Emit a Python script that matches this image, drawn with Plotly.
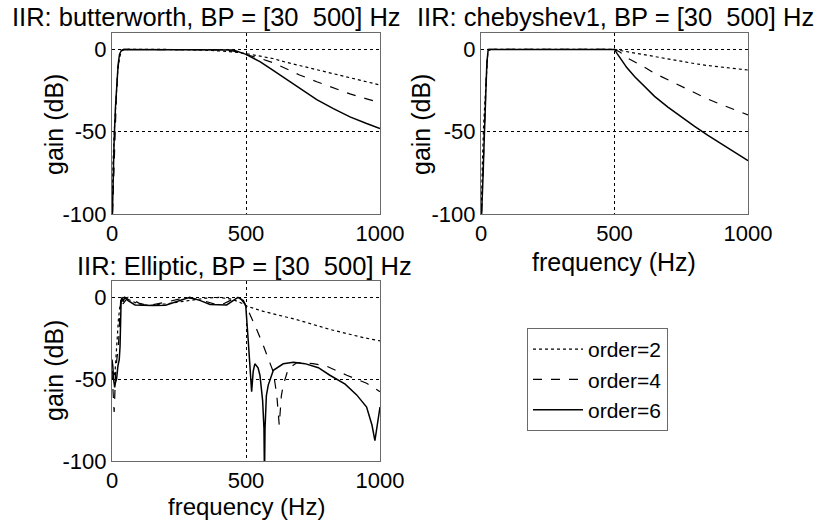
import plotly.graph_objects as go

# ---------------- data ----------------
orders = ["order=2", "order=4", "order=6"]
titles = ["IIR: butterworth, BP = [30  500] Hz",
          "IIR: chebyshev1, BP = [30  500] Hz",
          "IIR: Elliptic, BP = [30  500] Hz"]
x_ticks = [0, 500, 1000]
x_tick_text = ["0", "500", "1000"]
y_ticks = [-100, -50, 0]
y_tick_text = ["-100", "-50", "0"]

# Butterworth
bw2_f = [0, 1, 4, 9, 16, 22, 28, 35, 41, 60, 200, 265, 328, 390, 453, 500, 552, 600, 650, 700, 764, 826, 888, 950, 1000]
bw2_g = [-110, -100, -68, -48, -27.5, -11, -5, -1, -0.3, 0, 0, 0, -0.3, -0.8, -1.5, -2.5, -4, -5.5, -7.8, -9.8, -12.5, -15, -17.5, -19.6, -21.6]
bw4_f = [0, 2, 6, 11, 16, 21, 26, 32, 42, 60, 300, 400, 453, 500, 552, 600, 650, 700, 764, 826, 888, 950, 1000]
bw4_g = [-110, -100, -70, -48, -30, -15, -6, -1.5, 0, 0, 0, -0.2, -1, -3, -5.4, -8, -12, -15.5, -19.6, -23.5, -27, -30, -32.3]
bw6_f = [0, 1, 4, 8, 13, 18, 23, 28, 35, 45, 60, 400, 453, 500, 552, 600, 650, 700, 764, 826, 888, 950, 1000]
bw6_g = [-110, -100, -80, -55, -35, -20, -9, -3, -0.5, 0, 0, 0, -0.3, -3, -7.4, -12.5, -18, -23.5, -30.5, -36, -41, -45, -48]

# Chebyshev type 1
ch2_f = [0, 1, 5, 10, 15, 20, 25, 30, 40, 500, 550, 600, 650, 700, 750, 800, 850, 900, 950, 1000]
ch2_g = [-110, -100, -70, -45, -28, -14, -3, -0.5, 0, 0, -1.5, -3, -4.5, -6, -7.3, -8.6, -9.8, -10.8, -11.7, -12.5]
ch4_f = [0, 2, 5, 10, 15, 20, 25, 30, 500, 520, 546, 575, 608, 650, 700, 750, 800, 850, 900, 950, 1000]
ch4_g = [-110, -100, -88, -60, -35, -15, -3, 0, 0, -1.5, -5, -7.5, -10.4, -14.5, -18.5, -22.5, -26.5, -30.2, -33.5, -36.8, -39.8]
ch6_f = [0, 3, 8, 12, 17, 22, 27, 500, 510, 525, 546, 575, 608, 650, 700, 750, 800, 850, 900, 950, 1000]
ch6_g = [-110, -100, -75, -55, -30, -8, 0, 0, -2.5, -6, -11, -16.5, -22, -28.5, -35, -41, -46.8, -52.2, -57.5, -62.7, -67.6]

# Elliptic
el2_f = [0, 8, 12, 18, 24, 30, 36, 41, 50, 70, 100, 136, 200, 280, 350, 400, 450, 490, 500, 565, 689, 813, 938, 1000]
el2_g = [-45, -48, -44, -27.6, -13.4, -5, -2, 0, -0.3, -2, -4, -5, -4, -2, -0.5, 0, -1.2, -4, -5.2, -8.6, -13.6, -19.6, -24.6, -26.6]
el4_f = [0, 4, 8, 10, 13, 18, 24, 28, 30, 33, 41, 60, 100, 136, 200, 276, 340, 402, 440, 476, 500,
         520, 540, 565, 602, 615, 624, 632, 639, 658, 689, 720, 750, 800, 876, 950, 1000]
el4_g = [-45, -55, -70, -62, -47.6, -38, -30, -15, -5, 0, -4, 0, -3.5, -5, -3, 0, -2, -5, -2, 0, -5,
         -12, -19.6, -29.6, -45.6, -60, -78, -60, -53.6, -43.5, -40, -40, -40.5, -42, -47.6, -52.5, -57.6]
el6_f = [0, 3, 6, 10, 13, 17, 22, 27, 30, 32, 34, 37, 41, 48, 60, 86, 150, 200, 250, 290, 330, 366, 428, 450, 470, 490, 499,
         509, 518, 521, 527, 533, 545, 552, 562, 567, 569, 571, 576, 583, 602, 639, 677, 720, 770, 813, 870, 913, 950, 970, 981, 990, 1000]
el6_g = [-38, -42, -50, -55, -52, -50, -42, -38, -30, -10, -2, 0, -2.6, 0, -2, -4.6, -5, -4.8, -2, 0, -2, -4.4, -4.6, -2, 0, -2, -5,
         -28, -48, -57.6, -45, -40.6, -43, -47.6, -63, -80, -110, -80, -60, -53.6, -44.6, -40.6, -39.6, -40.5, -43, -47.6, -53, -59.6, -67, -78, -87.6, -78, -67]

series = [
    [(bw2_f, bw2_g), (bw4_f, bw4_g), (bw6_f, bw6_g)],
    [(ch2_f, ch2_g), (ch4_f, ch4_g), (ch6_f, ch6_g)],
    [(el2_f, el2_g), (el4_f, el4_g), (el6_f, el6_g)],
]
dashes = ["dot", "dash", "solid"]
widths = [1.2, 1.2, 1.5]

# ---------------- layout geometry ----------------
W, H = 821, 520
FONT = "Liberation Sans, Arial, Helvetica, sans-serif"


def px(x):
    return x / W


def py(y):
    return 1 - y / H


axes_px = [  # left, right, top, bottom in pixels
    (112, 380, 33, 214),
    (481, 748, 33, 214),
    (112, 380, 281, 461),
]

fig = go.Figure()
for i, group in enumerate(series):
    suffix = "" if i == 0 else str(i + 1)
    for j, (f, g) in enumerate(group):
        fig.add_trace(go.Scatter(
            x=f, y=g, mode="lines", name=orders[j],
            line=dict(color="black", dash=dashes[j], width=widths[j]),
            xaxis="x" + suffix, yaxis="y" + suffix,
            showlegend=(i == 2), legendgroup=orders[j],
            hoverinfo="skip",
        ))

axis_common = dict(
    showgrid=True, gridcolor="black", griddash="dot", gridwidth=1,
    showline=True, mirror=True, linecolor="#6a6a6a", linewidth=1,
    zeroline=False, ticks="", ticklen=0,
    tickfont=dict(size=22, color="black", family=FONT),
    fixedrange=True, automargin=False,
)

layout = dict(
    width=W, height=H, margin=dict(l=0, r=0, t=0, b=0, autoexpand=False),
    paper_bgcolor="white", plot_bgcolor="white",
    font=dict(family=FONT, color="black"),
    legend=dict(
        x=px(527), y=py(328), xanchor="left", yanchor="top",
        bordercolor="#6a6a6a", borderwidth=1, bgcolor="white",
        font=dict(size=21, family=FONT, color="black"),
        tracegroupgap=0, itemwidth=50,
    ),
)
for i, (l, r, t, b) in enumerate(axes_px):
    suffix = "" if i == 0 else str(i + 1)
    layout["xaxis" + suffix] = dict(
        axis_common, domain=[px(l), px(r)], range=[0, 1000],
        tickvals=x_ticks, ticktext=x_tick_text, anchor="y" + suffix,
    )
    layout["yaxis" + suffix] = dict(
        axis_common, domain=[py(b), py(t)], range=[-100, 10],
        tickvals=y_ticks, ticktext=y_tick_text, anchor="x" + suffix,
    )
fig.update_layout(**layout)

ann = []
title_pos = [(206, 17), (615, 17), (244, 266)]
for (x, y), t in zip(title_pos, titles):
    ann.append(dict(text=t, x=px(x), y=py(y), xref="paper", yref="paper",
                    xanchor="center", yanchor="middle", showarrow=False,
                    font=dict(size=25.5, family=FONT, color="black")))
for (x, y) in [(54, 125), (421, 125), (54, 371)]:
    ann.append(dict(text="gain (dB)", x=px(x), y=py(y), xref="paper", yref="paper",
                    xanchor="center", yanchor="middle", showarrow=False, textangle=-90,
                    font=dict(size=25, family=FONT, color="black")))
for (x, y, s) in [(614, 262, 25), (246, 506.5, 24)]:
    ann.append(dict(text="frequency (Hz)", x=px(x), y=py(y), xref="paper", yref="paper",
                    xanchor="center", yanchor="middle", showarrow=False, borderpad=0,
                    font=dict(size=s, family=FONT, color="black")))
fig.update_layout(annotations=ann)

fig.write_html("out.html")
